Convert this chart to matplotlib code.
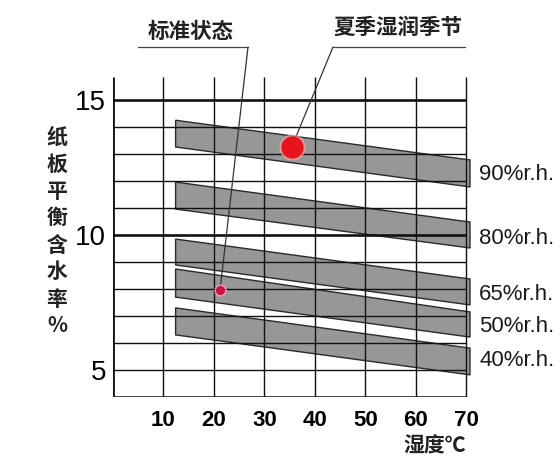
import matplotlib
matplotlib.use("Agg")
import matplotlib.pyplot as plt
from matplotlib.lines import Line2D
from matplotlib.patches import Polygon

# ---- data ----
x_ticks = [10, 20, 30, 40, 50, 60, 70]
y_ticks = [5, 10, 15]
h_grid = [5, 6, 7, 8, 9, 10, 11, 12, 13, 14, 15]
band_labels = ['90%r.h.', '80%r.h.', '65%r.h.', '50%r.h.', '40%r.h.']
band_x = [12.4, 70.7]
top_left = [14.25, 11.96, 9.85, 8.74, 7.30]
bottom_left = [13.26, 10.96, 8.89, 7.70, 6.30]
top_right = [12.78, 10.48, 8.37, 7.15, 5.81]
bottom_right = [11.78, 9.52, 7.41, 6.22, 4.82]
summer_point = (35.4, 13.26)
standard_point = (21.2, 7.96)
ylabel_chars = ['纸', '板', '平', '衡', '含', '水', '率', '%']

W, H = 560, 466
fig = plt.figure(figsize=(W / 100, H / 100), dpi=100)
ax = fig.add_axes([113 / W, (H - 397) / H, 358.5 / W, 321.3 / H])
ax.set_xlim(0, 71)
ax.set_ylim(4, 15.9)
for s in ax.spines.values():
    s.set_visible(False)

cjk = ['Noto Sans CJK SC', 'DejaVu Sans']
lat = ['Liberation Sans', 'DejaVu Sans']

# bands
for tl, bl, tr, br in zip(top_left, bottom_left, top_right, bottom_right):
    poly = Polygon([(band_x[0], tl), (band_x[1], tr), (band_x[1], br), (band_x[0], bl)],
                   closed=True, facecolor='#979797', edgecolor='#2a2a2a', lw=1.0, zorder=1)
    ax.add_patch(poly)

# grid
for yv in h_grid:
    ax.hlines(yv, 0, 70, color='#111111', lw=1.9 if yv in (10, 15) else 1.0, zorder=2)
ax.vlines(x_ticks, 4, 15.85, color='#111111', lw=1.0, zorder=2)
ax.vlines(0, 4, 15.85, color='#111111', lw=2.0, zorder=3)
ax.hlines(4, 0, 70, color='#111111', lw=1.8, zorder=3)

# ticks
ax.set_xticks(x_ticks)
ax.set_xticklabels([str(v) for v in x_ticks], fontfamily=lat, fontsize=16, fontweight='bold')
ax.set_yticks(y_ticks)
ax.set_yticklabels([str(v) for v in y_ticks], fontfamily=lat, fontsize=20)
ax.tick_params(axis='both', length=0)
ax.tick_params(axis='x', pad=9)
ax.tick_params(axis='y', pad=5)

# right labels
label_y = [175, 239, 294, 326, 361]
for lab, py in zip(band_labels, label_y):
    fig.text(479 / W, (H - py) / H, lab, fontfamily=lat, fontsize=16,
             ha='left', va='center', color='#1a1a1a')

# points
ax.plot(*summer_point, 'o', ms=18, color='#f4a0a0', alpha=0.6, zorder=5)
ax.plot(*summer_point, 'o', ms=15, color='#e8131b', zorder=6)
ax.plot(*standard_point, 'o', ms=8, color='#f0a0b0', alpha=0.7, zorder=5)
ax.plot(*standard_point, 'o', ms=5.5, color='#cc1040', zorder=6)

# annotations
ax.annotate('', xy=standard_point, xycoords='data', xytext=(248, H - 47),
            textcoords='figure pixels',
            arrowprops=dict(arrowstyle='-', color='#333333', lw=0.9,
                            shrinkA=0, shrinkB=0), zorder=4)
ax.annotate('', xy=summer_point, xycoords='data', xytext=(333, H - 47),
            textcoords='figure pixels',
            arrowprops=dict(arrowstyle='-', color='#333333', lw=0.9,
                            shrinkA=0, shrinkB=0), zorder=4)
fig.add_artist(Line2D([138 / W, 248 / W], [(H - 47) / H] * 2, color='#444444', lw=0.9))
fig.add_artist(Line2D([333 / W, 465 / W], [(H - 47) / H] * 2, color='#444444', lw=0.9))
fig.text(191 / W, (H - 31) / H, '标准状态', fontfamily=cjk, fontsize=15.5,
         fontweight='bold', ha='center', va='center', color='#222222')
fig.text(398 / W, (H - 27) / H, '夏季湿润季节', fontfamily=cjk, fontsize=15.5,
         fontweight='bold', ha='center', va='center', color='#222222')

# y label (stacked)
for i, ch in enumerate(ylabel_chars):
    fig.text(57 / W, (H - (137 + 27 * i)) / H, ch, fontfamily=cjk, fontsize=15,
             fontweight='bold', ha='center', va='center', color='#222222')

# x label
fig.text(435 / W, (H - 446) / H, '湿度℃', fontfamily=cjk, fontsize=15,
         fontweight='bold', ha='center', va='center', color='#222222')

fig.savefig('out.png', dpi=100)
